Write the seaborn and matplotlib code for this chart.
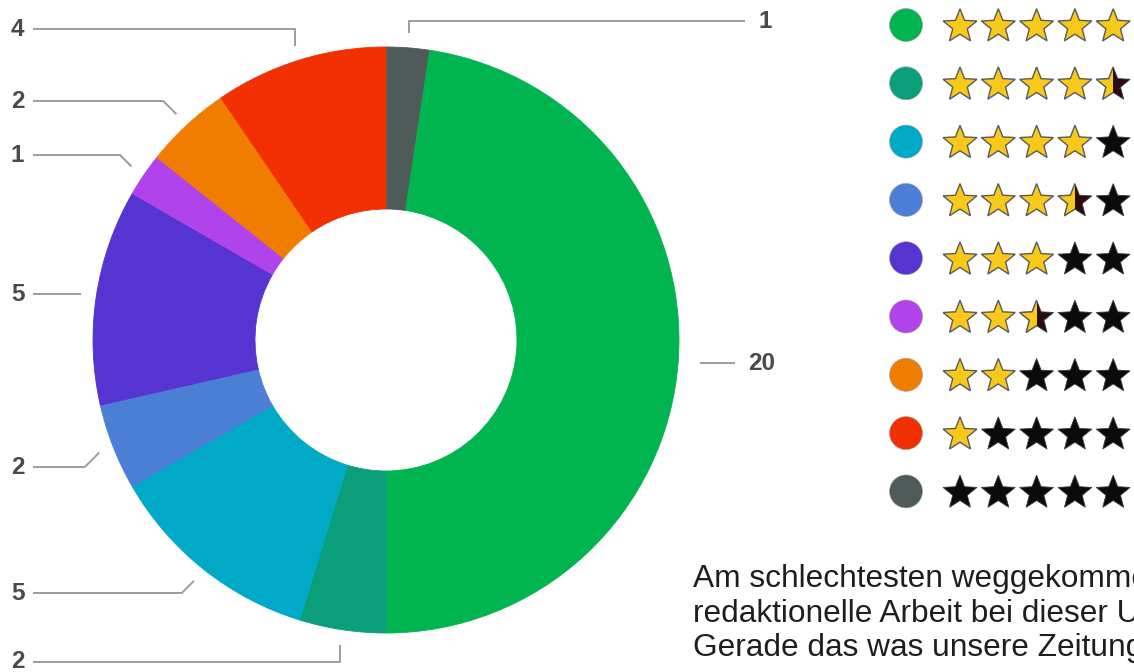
import numpy as np
import matplotlib
matplotlib.use('Agg')
import matplotlib.pyplot as plt
from matplotlib.patches import Polygon, Circle, Rectangle
import seaborn as sns

# data: votes per star rating, in pie order (clockwise from 12 o'clock)
ratings = [0, 5, 4.5, 4, 3.5, 3, 2.5, 2, 1]
counts = [1, 20, 2, 5, 2, 5, 1, 2, 4]
colors = ['#4f5b58', '#00b44f', '#0a9f7a', '#00a9c6', '#4b7fd5',
          '#5534d2', '#b143ea', '#f07c00', '#f12f00']

# legend order (top to bottom)
legend_ratings = [5, 4.5, 4, 3.5, 3, 2.5, 2, 1, 0]

text_lines = ['Am schlechtesten weggekommen',
              'redaktionelle Arbeit bei dieser U',
              'Gerade das was unsere Zeitung']

W, H = 1134, 672

# label layout (pixel y of the label row, leader style, side)
label_y = [21, 366, 662, 593, 467, 294, 155, 101, 29]
label_style = ['vert', 'flat', 'vert', 'diag', 'diag', 'flat', 'diag', 'diag', 'vert']
label_side = ['right', 'right', 'left', 'left', 'left', 'left', 'left', 'left', 'left']

sns.set_theme(style='white')
plt.rcParams['font.family'] = ['Liberation Sans', 'DejaVu Sans']

fig = plt.figure(figsize=(W / 100, H / 100), dpi=100)
ax = fig.add_axes([0, 0, 1, 1])


def py(y):
    # pixel row -> data y
    return H - y


cx, cy = 386, py(340)
r_out, r_in = 293, 131

wedges, _ = ax.pie(counts, colors=colors, startangle=90, counterclock=False,
                   radius=r_out, center=(cx, cy),
                   wedgeprops=dict(width=r_out - r_in, linewidth=0.6))
for w, c in zip(wedges, colors):
    w.set_edgecolor(c)

line_kw = dict(color='#9c9c9c', lw=1.4, solid_capstyle='butt')
label_kw = dict(fontsize=17.5, color='#4a4a4a', fontweight='bold', va='center')

for w, n, ly, style, side in zip(wedges, counts, label_y, label_style, label_side):
    mid = np.deg2rad((w.theta1 + w.theta2) / 2)
    ax_x = cx + 308 * np.cos(mid)
    ax_y = cy + 308 * np.sin(mid)
    ly = py(ly)
    if style == 'flat':
        if side == 'right':
            ax_x += 7
        pts = [(ax_x, ax_y)]
        ly = ax_y
    elif style == 'vert':
        pts = [(ax_x, ax_y), (ax_x, ly)]
    else:
        d = abs(ly - ax_y)
        pts = [(ax_x, ax_y), (ax_x - d if side == 'left' else ax_x + d, ly)]
    if side == 'left':
        pts.append((33, ly))
        ax.text(11, ly, str(n), ha='left', **label_kw)
    else:
        end = 745 if style == 'vert' else 735
        pts.append((end, ly))
        ax.text(end + 13, ly, str(n), ha='left', **label_kw)
    xs, ys = zip(*pts)
    ax.plot(xs, ys, **line_kw)


def star_xy(x0, y0, r):
    ang = np.pi / 2 + np.arange(10) * np.pi / 5
    rad = np.where(np.arange(10) % 2 == 0, r, r * 0.43)
    return np.column_stack([x0 + rad * np.cos(ang), y0 + rad * np.sin(ang)])


gold, dark = '#f8c91a', '#0b0b0b'
row0, row_step = 25, 58.3
for i, (rating, col) in enumerate(zip(legend_ratings, [colors[ratings.index(r)] for r in legend_ratings])):
    ry = py(row0 + i * row_step)
    ax.add_patch(Circle((906, ry), 16.5, facecolor=col, edgecolor='#a0a0a0', lw=0.4))
    for k in range(5):
        sx = 960 + k * 38.3
        verts = star_xy(sx, ry - 1.5, 17.8)
        fill = rating - k
        if fill >= 1:
            ax.add_patch(Polygon(verts, closed=True, facecolor=gold, edgecolor='#5a5a5a', lw=1.0))
        elif fill <= 0:
            ax.add_patch(Polygon(verts, closed=True, facecolor=dark, edgecolor='#3a3a3a', lw=0.6))
        else:
            ax.add_patch(Polygon(verts, closed=True, facecolor='#2a0c0c', edgecolor='#3a3a3a', lw=0.6))
            half = Polygon(verts, closed=True, facecolor=gold, edgecolor='#5a5a5a', lw=1.0)
            ax.add_patch(half)
            clip = Rectangle((sx - 20, ry - 25), 20, 50, transform=ax.transData)
            half.set_clip_path(clip)

for j, line in enumerate(text_lines):
    ax.text(693, py(587 + j * 34.5), line, fontsize=22.8, color='#1e1e1e',
            ha='left', va='baseline')

ax.set_xlim(0, W)
ax.set_ylim(0, H)
ax.set_aspect('equal')
ax.axis('off')

fig.savefig('out.png', dpi=100)
plt.close(fig)
